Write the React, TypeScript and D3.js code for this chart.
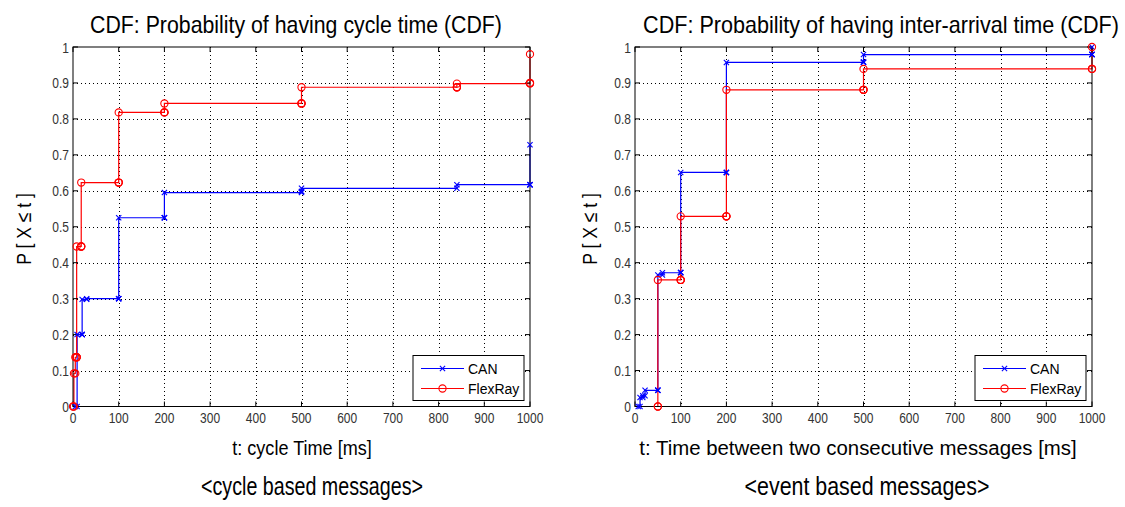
import React from 'react';
import * as d3 from 'd3';

// ---------- data ----------
const xTicks = [0, 100, 200, 300, 400, 500, 600, 700, 800, 900, 1000];
const yTicks = [0, 0.1, 0.2, 0.3, 0.4, 0.5, 0.6, 0.7, 0.8, 0.9, 1];
const yTickLabels = ['0', '0.1', '0.2', '0.3', '0.4', '0.5', '0.6', '0.7', '0.8', '0.9', '1'];
const seriesNames = ['CAN', 'FlexRay'];

// cycle based messages
const cycleCanT = [5, 9, 20, 20, 30, 100, 100, 200, 200, 500, 500, 840, 1000, 1000];
const cycleCanP = [0, 0.2, 0.2, 0.298, 0.3, 0.3, 0.525, 0.525, 0.595, 0.598, 0.607, 0.617, 0.617, 0.728];
const cycleFlexT = [0, 2, 5, 8, 8, 18, 18, 100, 100, 200, 200, 500, 500, 840, 840, 1000, 1000];
const cycleFlexP = [0, 0.092, 0.137, 0.137, 0.445, 0.445, 0.623, 0.623, 0.818, 0.818, 0.843, 0.843, 0.888, 0.888, 0.898, 0.9, 0.98];

// event based messages
const eventCanT = [7, 11, 17, 22, 50, 50, 60, 100, 100, 200, 200, 500, 500, 1000, 1000];
const eventCanP = [0, 0.025, 0.03, 0.045, 0.045, 0.366, 0.372, 0.373, 0.651, 0.651, 0.957, 0.958, 0.979, 0.979, 1.0];
const eventFlexT = [50, 50, 100, 100, 200, 200, 500, 500, 1000, 1000];
const eventFlexP = [0, 0.352, 0.352, 0.529, 0.529, 0.881, 0.881, 0.939, 0.939, 1.0];

// ---------- styling ----------
const FONT = "'Liberation Sans', Arial, Helvetica, sans-serif";
const BLUE = '#0000ff';
const RED = '#ff0000';

let measureCtx: CanvasRenderingContext2D | null = null;
function measure(text: string, size: number): number {
  if (typeof document === 'undefined') return text.length * size * 0.5;
  if (!measureCtx) measureCtx = document.createElement('canvas').getContext('2d');
  if (!measureCtx) return text.length * size * 0.5;
  measureCtx.font = `${size}px ${FONT}`;
  return measureCtx.measureText(text).width;
}

// text squeezed horizontally so that it spans `len` pixels
function FitText({ text, x, y, size, len, rotate = 0 }:
  { text: string; x: number; y: number; size: number; len: number; rotate?: number }) {
  const s = len / measure(text, size);
  return (
    <text transform={`translate(${x},${y}) rotate(${rotate}) scale(${s},1)`} textAnchor="middle"
      fontFamily={FONT} fontSize={size} fill="#000">{text}</text>
  );
}

type Series = { name: string; t: number[]; p: number[]; color: string; marker: 'x' | 'o' };

function Marker({ type, x, y, color }: { type: 'x' | 'o'; x: number; y: number; color: string }) {
  if (type === 'o') {
    return <circle cx={x} cy={y} r={3.6} fill="none" stroke={color} strokeWidth={1.1} />;
  }
  const s = 2.6;
  return (
    <g stroke={color} strokeWidth={1.1}>
      <line x1={x - s} y1={y - s} x2={x + s} y2={y + s} />
      <line x1={x - s} y1={y + s} x2={x + s} y2={y - s} />
    </g>
  );
}

type PanelProps = {
  left: number; right: number; top: number; bottom: number;
  series: Series[];
  title: string; titleX: number; titleLen: number;
  xlabel: string; xlabelX: number; xlabelLen: number;
  sub: string; subX: number; subLen: number;
  ylabelX: number;
};

function Panel(p: PanelProps) {
  const x = d3.scaleLinear().domain([0, 1000]).range([p.left, p.right]);
  const y = d3.scaleLinear().domain([0, 1]).range([p.bottom, p.top]);
  const line = d3.line<[number, number]>().curve(d3.curveStepAfter).x(d => x(d[0])).y(d => y(d[1]));
  const tick = 5;
  const legW = 111, legH = 45;
  const legR = p.right - 6, legB = p.bottom - 6;
  const legL = legR - legW, legT = legB - legH;
  const tickScale = 0.8;
  return (
    <g>
      {/* grid */}
      <g stroke="#000" strokeWidth={1} strokeDasharray="1,3">
        {xTicks.slice(1, -1).map(v => (
          <line key={'gx' + v} x1={Math.round(x(v)) + 0.5} x2={Math.round(x(v)) + 0.5} y1={p.top} y2={p.bottom} />
        ))}
        {yTicks.slice(1, -1).map(v => (
          <line key={'gy' + v} y1={Math.round(y(v)) + 0.5} y2={Math.round(y(v)) + 0.5} x1={p.left} x2={p.right} />
        ))}
      </g>
      {/* series lines */}
      {p.series.map(s => (
        <path key={'l' + s.name} d={line(s.t.map((t, i) => [t, s.p[i]] as [number, number])) || ''}
          fill="none" stroke={s.color} strokeWidth={1.2} />
      ))}
      {/* axes box + ticks */}
      <g stroke="#000" strokeWidth={1}>
        <rect x={p.left} y={p.top} width={p.right - p.left} height={p.bottom - p.top} fill="none" />
        {xTicks.map(v => (
          <g key={'tx' + v}>
            <line x1={x(v)} x2={x(v)} y1={p.bottom} y2={p.bottom - tick} />
            <line x1={x(v)} x2={x(v)} y1={p.top} y2={p.top + tick} />
          </g>
        ))}
        {yTicks.map(v => (
          <g key={'ty' + v}>
            <line y1={y(v)} y2={y(v)} x1={p.left} x2={p.left + tick} />
            <line y1={y(v)} y2={y(v)} x1={p.right} x2={p.right - tick} />
          </g>
        ))}
      </g>
      {/* markers */}
      {p.series.map(s => (
        <g key={'m' + s.name}>
          {s.t.map((t, i) => (
            <Marker key={i} type={s.marker} x={x(t)} y={y(s.p[i])} color={s.color} />
          ))}
          {s.t.slice(1).map((t, i) => (
            <Marker key={'c' + i} type={s.marker} x={x(t)} y={y(s.p[i])} color={s.color} />
          ))}
        </g>
      ))}
      {/* tick labels */}
      <g fontFamily={FONT} fontSize={15} fill="#333">
        {xTicks.map(v => (
          <text key={'lx' + v} transform={`translate(${x(v)},${p.bottom + 16.5}) scale(${tickScale},1)`}
            textAnchor="middle">{v}</text>
        ))}
        {yTicks.map((v, i) => (
          <text key={'ly' + v} transform={`translate(${p.left - 4},${y(v) + 5.5}) scale(${tickScale},1)`}
            textAnchor="end">{yTickLabels[i]}</text>
        ))}
      </g>
      {/* legend */}
      <g>
        <rect x={legL} y={legT} width={legW} height={legH} fill="#fff" stroke="#000" strokeWidth={1} />
        {p.series.map((s, i) => {
          const ly = legT + 13 + i * 20;
          return (
            <g key={'leg' + s.name}>
              <line x1={legL + 8} x2={legL + 51} y1={ly} y2={ly} stroke={s.color} strokeWidth={1.2} />
              <Marker type={s.marker} x={legL + 29.5} y={ly} color={s.color} />
              <text x={legL + 55} y={ly + 5} fontFamily={FONT} fontSize={14} fill="#000">{s.name}</text>
            </g>
          );
        })}
      </g>
      {/* titles */}
      <FitText text={p.title} x={p.titleX} y={33} size={24} len={p.titleLen} />
      <FitText text={p.xlabel} x={p.xlabelX} y={455} size={20} len={p.xlabelLen} />
      <FitText text={p.sub} x={p.subX} y={495} size={25} len={p.subLen} />
      <FitText text="P [ X ≤ t ]" x={p.ylabelX} y={229} size={21} len={72} rotate={-90} />
    </g>
  );
}

export default function App() {
  const cycleSeries: Series[] = [
    { name: seriesNames[0], t: cycleCanT, p: cycleCanP, color: BLUE, marker: 'x' },
    { name: seriesNames[1], t: cycleFlexT, p: cycleFlexP, color: RED, marker: 'o' },
  ];
  const eventSeries: Series[] = [
    { name: seriesNames[0], t: eventCanT, p: eventCanP, color: BLUE, marker: 'x' },
    { name: seriesNames[1], t: eventFlexT, p: eventFlexP, color: RED, marker: 'o' },
  ];
  return (
    <svg width={1125} height={507} style={{ position: 'absolute', left: 0, top: 0, background: '#fff' }}>
      <rect width={1125} height={507} fill="#fff" />
      <Panel left={73} right={530} top={47} bottom={406.5} series={cycleSeries}
        title="CDF: Probability of having cycle time (CDF)" titleX={296} titleLen={412}
        xlabel="t: cycle Time [ms]" xlabelX={302} xlabelLen={140}
        sub="<cycle based messages>" subX={312} subLen={222}
        ylabelX={31} />
      <Panel left={635} right={1092} top={47} bottom={406.5} series={eventSeries}
        title="CDF: Probability of having inter-arrival time (CDF)" titleX={881} titleLen={476}
        xlabel="t: Time between two consecutive messages [ms]" xlabelX={858} xlabelLen={438}
        sub="<event based messages>" subX={867} subLen={245}
        ylabelX={597} />
    </svg>
  );
}
